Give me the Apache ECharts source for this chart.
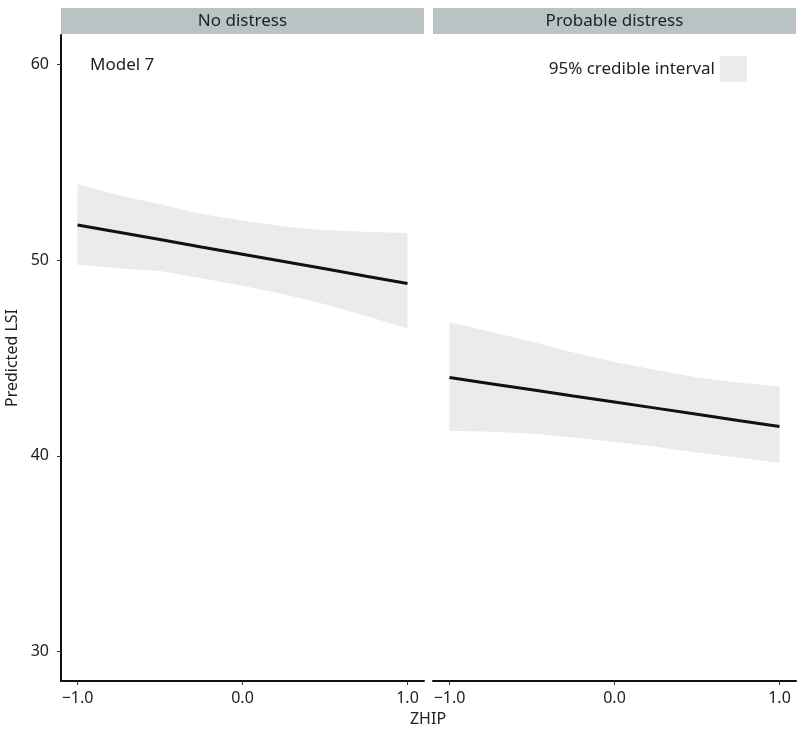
<!DOCTYPE html>
<html>
<head>
<meta charset="utf-8">
<script src="https://cdn.jsdelivr.net/npm/echarts@6/dist/echarts.min.js"></script>
<style>
  html, body { margin: 0; padding: 0; background: #fff; }
  #chart { width: 805px; height: 740px; }
</style>
</head>
<body>
<div id="chart"></div>
<script>
// ZHIP grid points and predicted LSI (fit + 95% credible band) per panel
const zhip = [-1, -0.75, -0.5, -0.25, 0, 0.25, 0.5, 0.75, 1];
const noDistressFit = [51.79, 51.42, 51.05, 50.67, 50.30, 49.93, 49.56, 49.18, 48.81];
const noDistressLower = [49.76, 49.59, 49.45, 49.08, 48.69, 48.26, 47.75, 47.15, 46.51];
const noDistressUpper = [53.88, 53.32, 52.85, 52.35, 52.02, 51.72, 51.52, 51.45, 51.38];
const probableFit = [44.00, 43.69, 43.38, 43.06, 42.75, 42.44, 42.13, 41.81, 41.50];
const probableLower = [41.28, 41.23, 41.14, 40.94, 40.72, 40.46, 40.17, 39.92, 39.63];
const probableUpper = [46.82, 46.34, 45.83, 45.28, 44.80, 44.39, 44.01, 43.75, 43.55];

const xTicks = [-1, 0, 1];
const yTicks = [30, 40, 50, 60];
const panels = ["No distress", "Probable distress"];
const ciName = "95% credible interval";

const FONT = "'Noto Sans', 'Open Sans', sans-serif";
const TXT = "#222";
const BAND = "#ebebeb";
const STRIP = "#b9c3c3";

const pairs = (ys) => zhip.map((x, i) => [x, ys[i]]);
const fmtX = (v) => (v < 0 ? "\u2212" : "") + Math.abs(v).toFixed(1);

const chart = echarts.init(document.getElementById("chart"));

const grids = [
  { left: 61, top: 35, width: 363, bottom: 59 },
  { left: 433, top: 35, width: 363, bottom: 59 },
];

const xAxes = [0, 1].map((i) => ({
  type: "value",
  gridIndex: i,
  min: -1.1,
  max: 1.1,
  splitLine: { show: false },
  axisLine: { show: true, onZero: false, lineStyle: { color: "#111", width: 2 } },
  axisTick: { show: true, customValues: xTicks, length: 4, lineStyle: { color: "#333" } },
  axisLabel: {
    customValues: xTicks,
    formatter: fmtX,
    color: TXT,
    fontFamily: FONT,
    fontSize: 16,
    margin: 9,
  },
}));

const yAxes = [0, 1].map((i) => ({
  type: "value",
  gridIndex: i,
  min: 28.5,
  max: 61.5,
  splitLine: { show: false },
  name: i === 0 ? "Predicted LSI" : "",
  nameLocation: "middle",
  nameGap: 41,
  nameTextStyle: { color: TXT, fontFamily: FONT, fontSize: 16 },
  axisLine: { show: i === 0, onZero: false, lineStyle: { color: "#111", width: 2 } },
  axisTick: { show: i === 0, customValues: yTicks, length: 4, lineStyle: { color: "#333" } },
  axisLabel: {
    show: i === 0,
    customValues: yTicks,
    color: TXT,
    fontFamily: FONT,
    fontSize: 16,
    margin: 12,
  },
}));

// ribbon drawn as one polygon through the axis scales
function bandSeries(idx, lo, hi) {
  return {
    name: ciName,
    type: "custom",
    xAxisIndex: idx,
    yAxisIndex: idx,
    silent: true,
    itemStyle: { color: BAND },
    data: zhip.map((x, i) => [x, lo[i], hi[i]]),
    encode: { x: 0, y: [1, 2] },
    renderItem: (params, api) => {
      if (params.dataIndex !== 0) return null;
      const top = zhip.map((x, i) => api.coord([x, hi[i]]));
      const bottom = zhip.map((x, i) => api.coord([x, lo[i]])).reverse();
      return {
        type: "polygon",
        shape: { points: top.concat(bottom) },
        style: { fill: BAND, stroke: null },
      };
    },
  };
}

function fitSeries(idx, fit) {
  return {
    name: "fit" + idx,
    type: "line",
    xAxisIndex: idx,
    yAxisIndex: idx,
    symbol: "none",
    lineStyle: { color: "#111", width: 3 },
    silent: true,
    z: 5,
    data: pairs(fit),
  };
}

const stripGraphics = panels.flatMap((label, i) => [
  {
    type: "rect",
    left: grids[i].left,
    top: 8,
    shape: { width: grids[i].width, height: 26 },
    style: { fill: STRIP },
    silent: true,
  },
  {
    type: "text",
    x: grids[i].left + grids[i].width / 2,
    y: 21,
    style: {
      text: label,
      fill: TXT,
      font: "17px " + FONT,
      align: "center",
      verticalAlign: "middle",
    },
    silent: true,
  },
]);

chart.setOption({
  animation: false,
  backgroundColor: "#fff",
  grid: grids,
  xAxis: xAxes,
  yAxis: yAxes,
  legend: {
    data: [{ name: ciName, icon: "rect", itemStyle: { color: BAND } }],
    right: 58,
    top: 56,
    padding: 0,
    align: "right",
    itemWidth: 27,
    itemHeight: 26,
    selectedMode: false,
    textStyle: { color: TXT, fontFamily: FONT, fontSize: 17 },
  },
  graphic: [
    ...stripGraphics,
    {
      type: "text",
      x: 90,
      y: 65,
      style: { text: "Model 7", fill: TXT, font: "17px " + FONT, verticalAlign: "middle" },
      silent: true,
    },
    {
      type: "text",
      x: 428,
      y: 719,
      style: {
        text: "ZHIP",
        fill: TXT,
        font: "16px " + FONT,
        align: "center",
        verticalAlign: "middle",
      },
      silent: true,
    },
  ],
  series: [
    bandSeries(0, noDistressLower, noDistressUpper),
    bandSeries(1, probableLower, probableUpper),
    fitSeries(0, noDistressFit),
    fitSeries(1, probableFit),
  ],
});
</script>
</body>
</html>
